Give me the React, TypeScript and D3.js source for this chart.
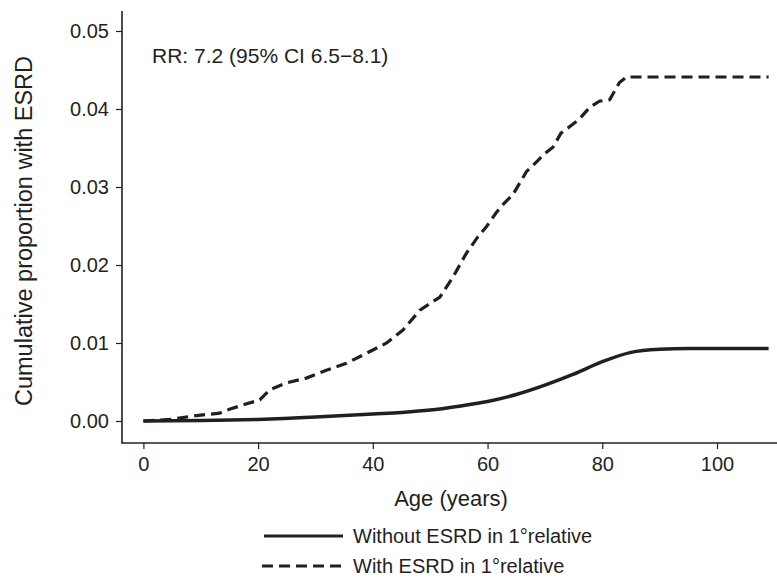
import React, { useEffect, useRef } from "react";
import * as d3 from "d3";

const withoutAge = [0, 10, 20, 30, 40, 45, 50, 55, 60, 65, 70, 75, 80, 85, 90, 95, 100, 109];
const withoutVal = [0, 0.00005, 0.0002, 0.0005, 0.0009, 0.0011, 0.0014, 0.0019, 0.0025, 0.0034, 0.0046, 0.006, 0.0076, 0.0088, 0.0092, 0.0093, 0.0093, 0.0093];

const withAge = [0, 4.6, 9.3, 13.3, 15, 18, 20.3, 22, 25, 28.4, 31.9, 35.4, 40, 42.4, 45.3, 48.2, 51.7, 54, 56.3, 58.3, 59.8, 61.5, 63, 64.4, 65.6, 66.8, 68.5, 70, 71.4, 72.8, 74.8, 76, 77.8, 79.5, 81.3, 83, 84.2, 109];
const withVal = [0, 0.0002, 0.0007, 0.001, 0.0015, 0.0022, 0.0027, 0.004, 0.0049, 0.0055, 0.0065, 0.0074, 0.0091, 0.01, 0.0117, 0.0142, 0.0159, 0.0185, 0.0215, 0.0236, 0.0249, 0.0267, 0.028, 0.029, 0.0305, 0.032, 0.0332, 0.0343, 0.0351, 0.0369, 0.038, 0.0387, 0.0402, 0.041, 0.0412, 0.0434, 0.0441, 0.0441];

const xTicks = [0, 20, 40, 60, 80, 100];
const yTicks = [0, 0.01, 0.02, 0.03, 0.04, 0.05];

const seriesLabels = ["Without ESRD in 1°relative", "With ESRD in 1°relative"];
const annotation = "RR: 7.2 (95% CI 6.5\u22128.1)";

export default function App() {
  const ref = useRef<SVGSVGElement>(null);
  useEffect(() => {
    const svg = d3.select(ref.current);
    svg.selectAll("*").remove();
    const font = "Liberation Sans, Arial, Helvetica, sans-serif";
    const x = d3.scaleLinear().domain([0, 100]).range([143.4, 717]);
    const y = d3.scaleLinear().domain([0, 0.05]).range([421, 31]);
    const color = "#231f20";

    svg.append("line").attr("x1", 122).attr("x2", 122).attr("y1", 11).attr("y2", 443)
      .attr("stroke", color).attr("stroke-width", 1.6);
    svg.append("line").attr("x1", 121.2).attr("x2", 777).attr("y1", 443).attr("y2", 443)
      .attr("stroke", color).attr("stroke-width", 1.6);

    const xAxis = svg.append("g").attr("transform", "translate(0,443)")
      .call(d3.axisBottom(x).tickValues(xTicks).tickSize(6).tickSizeOuter(0).tickFormat(d3.format("d")));
    xAxis.select(".domain").remove();
    xAxis.selectAll("line").attr("stroke", color).attr("stroke-width", 1.2);
    xAxis.selectAll("text").attr("font-family", font).attr("font-size", 20).attr("fill", color)
      .attr("y", 21).attr("dy", "0.36em");

    const yAxis = svg.append("g").attr("transform", "translate(122,0)")
      .call(d3.axisLeft(y).tickValues(yTicks).tickSize(6).tickSizeOuter(0).tickFormat(d3.format(".2f")));
    yAxis.select(".domain").remove();
    yAxis.selectAll("line").attr("stroke", color).attr("stroke-width", 1.2);
    yAxis.selectAll("text").attr("font-family", font).attr("font-size", 20).attr("fill", color).attr("x", -13);

    svg.append("text").attr("x", 451).attr("y", 506).attr("text-anchor", "middle")
      .attr("font-family", font).attr("font-size", 22).attr("fill", color).text("Age (years)");
    svg.append("text").attr("transform", "translate(32,231) rotate(-90)").attr("text-anchor", "middle")
      .attr("font-family", font).attr("font-size", 23.5).attr("fill", color).text("Cumulative proportion with ESRD");

    svg.append("text").attr("x", 152).attr("y", 55).attr("dy", "0.36em")
      .attr("font-family", font).attr("font-size", 21).attr("fill", color).text(annotation);

    const solidPts: [number, number][] = withoutAge.map((a, i) => [x(a), y(withoutVal[i])]);
    svg.append("path").attr("d", d3.line().curve(d3.curveMonotoneX)(solidPts) as string)
      .attr("fill", "none").attr("stroke", color).attr("stroke-width", 3.5);

    const dashPts: [number, number][] = withAge.map((a, i) => [x(a), y(withVal[i])]);
    svg.append("path").attr("d", d3.line().curve(d3.curveLinear)(dashPts) as string)
      .attr("fill", "none").attr("stroke", color).attr("stroke-width", 3.2)
      .attr("stroke-dasharray", "11,6");

    const legY = [536, 566];
    svg.append("line").attr("x1", 264).attr("x2", 343).attr("y1", legY[0]).attr("y2", legY[0])
      .attr("stroke", color).attr("stroke-width", 3);
    svg.append("line").attr("x1", 262).attr("x2", 343).attr("y1", legY[1]).attr("y2", legY[1])
      .attr("stroke", color).attr("stroke-width", 3).attr("stroke-dasharray", "11,6");
    seriesLabels.forEach((t, i) => {
      svg.append("text").attr("x", 353).attr("y", legY[i]).attr("dy", "0.36em")
        .attr("font-family", font).attr("font-size", 20).attr("fill", color).text(t);
    });
  }, []);
  return (
    <svg ref={ref} width={777} height={578} style={{ position: "absolute", left: 0, top: 0, background: "#fff" }} />
  );
}
